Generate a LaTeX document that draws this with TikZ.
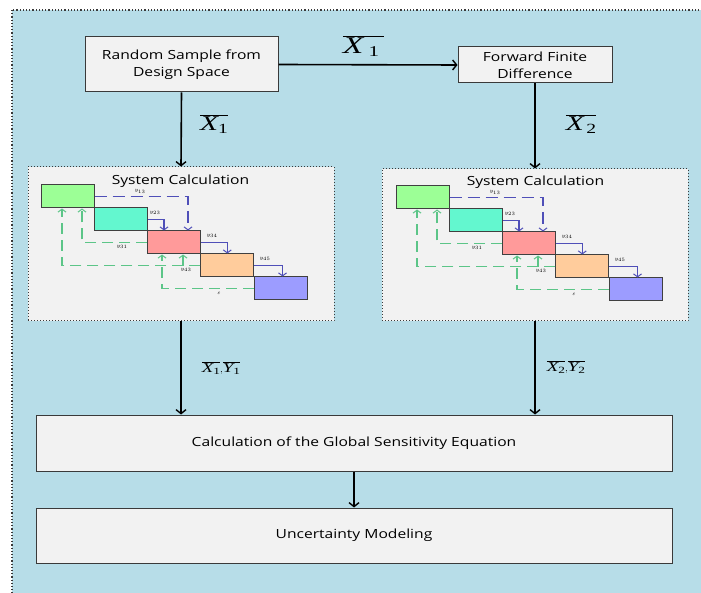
\documentclass[tikz,border=0pt]{standalone}
\usepackage{fontspec}
\usetikzlibrary{arrows.meta}
\newfontfamily\boxfont[FakeStretch=1.24]{Open Sans}
\newfontfamily\tnr[FakeStretch=1.4]{Liberation Serif}
\definecolor{bgblue}{HTML}{B7DDE8}
\definecolor{boxfill}{HTML}{F2F2F2}
\definecolor{boxline}{HTML}{3A3A3A}
\definecolor{cgreen}{HTML}{9CFF96}
\definecolor{ccyan}{HTML}{63F7CF}
\definecolor{cpink}{HTML}{FF9A9A}
\definecolor{cpeach}{HTML}{FFCC9C}
\definecolor{cblue}{HTML}{9C9CFF}
\definecolor{dsmblue}{HTML}{4F4FB8}
\definecolor{dsmgreen}{HTML}{5CC588}
\tikzset{
  procbox/.style={draw=boxline, line width=1pt, fill=boxfill, inner sep=0pt, align=center, font=\boxfont\fontsize{12.6}{17}\selectfont},
  sysbox/.style={draw=boxline, line width=1pt, dotted, fill=boxfill, inner sep=0pt},
  blk/.style={draw=black!75, line width=1pt, minimum width=53pt, minimum height=23pt, inner sep=0pt},
  arr/.style={draw=black, line width=1.6pt, -{Straight Barb[length=4pt,width=10pt,line width=1.4pt]}},
  bluedash/.style={draw=dsmblue, line width=1.1pt, dash pattern=on 12pt off 6pt, -{Straight Barb[length=3pt,width=8pt,line width=1pt]}},
  blueline/.style={draw=dsmblue, line width=1.1pt, -{Straight Barb[length=3pt,width=8pt,line width=1pt]}},
  greendash/.style={draw=dsmgreen, line width=1.1pt, dash pattern=on 11pt off 6pt, -{Straight Barb[length=3pt,width=8pt,line width=1pt]}},
  tiny/.style={inner sep=0pt, font=\fontsize{3.5}{4}\selectfont},
  mlab/.style={inner sep=0pt}
}
\newcommand\dsmgraph[3]{%
\begin{scope}[shift={(#2,#3)}]
  \node[blk, fill=cgreen] (#1b1) at (67.5,196.5) {};
  \node[blk, fill=ccyan]  (#1b2) at (120.75,219.5) {};
  \node[blk, fill=cpink]  (#1b3) at (174,242.5) {};
  \node[blk, fill=cpeach] (#1b4) at (227.25,265.5) {};
  \node[blk, fill=cblue]  (#1b5) at (280.5,288.5) {};
  \draw[bluedash] (#1b1.east) -| ([xshift=14pt]#1b3.north);
  \draw[blueline] (#1b2.east) -| ([xshift=-10pt]#1b3.north);
  \draw[blueline] (#1b3.east) -| (#1b4.north);
  \draw[blueline] (#1b4.east) -| ([xshift=2pt]#1b5.north);
  \draw[greendash] (#1b4.west) -| ([xshift=-5.5pt]#1b1.south);
  \draw[greendash] (#1b3.west) -| ([xshift=14.5pt]#1b1.south);
  \draw[greendash] (#1b5.west) -| ([xshift=-12pt]#1b3.south);
  \draw[greendash] (#1b4.west) -| ([xshift=9pt]#1b3.south);
  \node[tiny] (#1t1) at (140,191.5) {$y_{13}$};
  \node[tiny] (#1t2) at (155,213) {$y_{23}$};
  \node[tiny] (#1t3) at (212,236) {$y_{34}$};
  \node[tiny] (#1t4) at (265,259) {$y_{45}$};
  \node[tiny] (#1t5) at (122,247) {$y_{31}$};
  \node[tiny] (#1t6) at (186,270) {$y_{43}$};
  \node[tiny] (#1t7) at (219,293) {$\varepsilon$};
\end{scope}}
\newcommand\barsym[4]{% #1 letter, #2 subscript, #3 size, #4 sub size
  $\overline{\mbox{\fontsize{#3}{#3}\selectfont\tnr\itshape #1}\mbox{\fontsize{#4}{#4}\selectfont\tnr\raisebox{-0.22em}{#2}}}$}
\begin{document}
\begin{tikzpicture}[x=1pt,y=-1pt]
\useasboundingbox (0,0) rectangle (701,593);
\fill[white] (0,0) rectangle (701,593);
\fill[bgblue] (12,10) rectangle (720,620);
\draw[boxline, line width=1.2pt, dotted] (12,10) rectangle (720,620);
% top boxes
\node[procbox, minimum width=193pt, minimum height=55pt] (rs) at (181.5,64.5) {Random Sample from\\Design Space};
\node[procbox, minimum width=154pt, minimum height=36pt] (ffd) at (535,65) {Forward Finite\\Difference};
% system calculation boxes
\node[sysbox, minimum width=306pt, minimum height=154pt] (sys1) at (181,244) {};
\node[sysbox, minimum width=306pt, minimum height=152pt] (sys2) at (535,245) {};
\node[inner sep=0pt, font=\boxfont\fontsize{12.6}{14}\selectfont] (st1) at (180.5,181) {System Calculation};
\node[inner sep=0pt, font=\boxfont\fontsize{12.6}{14}\selectfont] (st2) at (535.5,182) {System Calculation};
\dsmgraph{a}{0}{0}
\dsmgraph{c}{355}{1}
% bottom boxes
\node[procbox, minimum width=636pt, minimum height=56pt] (calc) at (354,443) {Calculation of the Global Sensitivity Equation};
\node[procbox, minimum width=636pt, minimum height=55pt] (unc) at (354,535.5) {Uncertainty Modeling};
% connectors
\draw[arr] (rs.east) -- (ffd.west);
\draw[arr] (rs.south) -- (sys1.north);
\draw[arr] (ffd.south) -- (sys2.north);
\draw[arr] (sys1.south) -- (sys1.south |- calc.north);
\draw[arr] (sys2.south) -- (sys2.south |- calc.north);
\draw[arr] (calc.south) -- (unc.north);
% labels
\node[mlab] (l1) at (361,46) {$\overline{\mbox{\fontsize{24}{24}\selectfont\tnr\itshape X\hspace{20pt}}}$\hspace{-15pt}\mbox{\fontsize{15}{15}\selectfont\tnr\raisebox{-3pt}{1}}};
\node[mlab] (l2) at (214,124) {\barsym{X}{1}{21}{14}};
\node[mlab] (l3) at (581,124) {\barsym{X}{\,2}{21}{14}};
\node[mlab] (l4) at (221,368) {\barsym{X}{1}{13.5}{9.5},\barsym{Y}{1}{13.5}{9.5}};
\node[mlab] (l5) at (566,367) {\barsym{X}{2}{13.5}{9.5},\barsym{Y}{2}{13.5}{9.5}};
\end{tikzpicture}
\end{document}
